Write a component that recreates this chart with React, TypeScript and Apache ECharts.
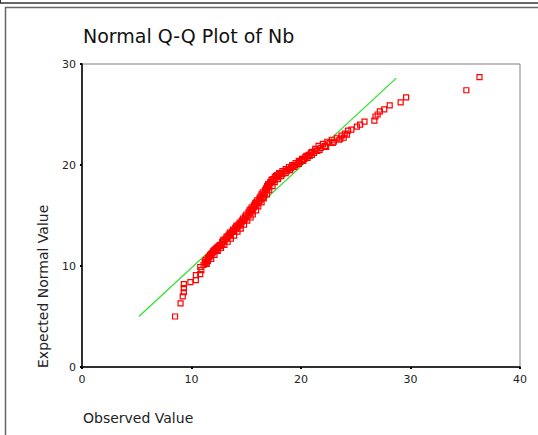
import React, { useEffect, useRef } from "react";
import * as echarts from "echarts";

const titleText = "Normal Q-Q Plot of Nb";
const xAxisName = "Observed Value";
const yAxisName = "Expected Normal Value";
const xTicks = [0, 10, 20, 30, 40];
const yTicks = [0, 10, 20, 30];

// [observed, expected normal]
const qqPoints: [number, number][] = [
  [8.5, 5.0], [9.0, 6.3], [9.2, 7.0], [9.3, 7.4], [9.3, 7.8], [9.3, 8.2], [9.9, 8.4],
  [10.4, 8.6], [10.4, 9.1], [10.8, 9.2], [10.9, 9.6], [10.8, 9.9], [11.1, 10.1],
  [11.3, 10.3], [11.5, 10.5], [11.5, 10.8], [11.7, 11.0], [11.8, 11.2], [12.0, 11.4],
  [12.1, 11.6], [12.2, 11.7], [12.4, 11.9], [12.6, 12.0], [12.8, 12.2], [12.9, 12.4],
  [13.0, 12.5], [13.2, 12.7], [13.3, 12.9], [13.5, 13.0], [13.6, 13.2], [13.8, 13.4],
  [13.9, 13.5], [14.1, 13.7], [14.2, 13.9], [14.4, 14.0], [14.5, 14.2], [14.6, 14.4],
  [14.8, 14.5], [14.9, 14.7], [15.0, 14.9], [15.2, 15.0], [15.3, 15.2], [15.5, 15.4],
  [15.6, 15.6], [15.7, 15.8], [15.9, 16.0], [16.0, 16.2], [16.2, 16.4], [16.3, 16.6],
  [16.5, 16.8], [16.6, 17.0], [16.7, 17.2], [16.9, 17.5], [17.0, 17.8], [17.1, 18.0],
  [17.2, 18.3], [17.4, 18.6], [17.6, 18.8], [17.8, 19.0], [18.0, 19.2], [18.3, 19.4],
  [18.6, 19.6], [18.9, 19.8], [19.2, 20.0], [19.5, 20.2], [19.8, 20.4], [20.1, 20.6],
  [20.4, 20.8], [20.7, 21.0], [21.0, 21.3], [21.3, 21.6], [21.6, 21.9], [22.0, 22.1],
  [22.4, 22.3], [22.8, 22.5], [23.3, 22.7], [23.7, 22.9], [24.0, 23.1], [24.3, 23.4],
  [24.6, 23.5], [25.1, 23.8], [25.4, 24.0], [25.8, 24.3], [26.7, 24.4], [26.8, 24.8],
  [27.0, 25.0], [27.2, 25.3], [27.6, 25.5], [28.1, 25.9], [29.1, 26.2], [29.6, 26.7],
  [35.1, 27.4], [36.3, 28.7],
  // second pass through the dense band
  [11.4, 10.2], [11.8, 10.7], [12.1, 11.1], [12.4, 11.5], [12.7, 11.8], [13.0, 12.1],
  [13.3, 12.4], [13.6, 12.7], [13.9, 13.0], [14.2, 13.4], [14.5, 13.7], [14.8, 14.1],
  [15.1, 14.5], [15.4, 14.8], [15.6, 15.1], [15.9, 15.5], [16.1, 15.9], [16.4, 16.3],
  [16.6, 16.7], [16.9, 17.1], [17.1, 17.5], [17.4, 17.9], [17.6, 18.3], [17.9, 18.6],
  [18.2, 18.9], [18.6, 19.2], [19.0, 19.5], [19.4, 19.8], [19.8, 20.1], [20.2, 20.4],
  [20.6, 20.7], [21.0, 21.0], [21.5, 21.4], [22.2, 21.9], [23.0, 22.3], [23.9, 22.7],
  // third pass through the dense band
  [11.2, 10.4], [11.6, 10.9], [11.9, 11.3], [12.3, 11.8], [12.6, 12.1], [12.9, 12.6],
  [13.2, 12.9], [13.5, 13.3], [13.8, 13.6], [14.1, 14.0], [14.4, 14.3], [14.7, 14.7],
  [15.0, 15.1], [15.3, 15.5], [15.5, 15.8], [15.8, 16.2], [16.0, 16.5], [16.3, 16.9],
  [16.5, 17.3], [16.8, 17.7], [17.0, 18.1], [17.3, 18.5], [17.7, 18.9], [18.1, 19.1],
  [18.5, 19.4], [18.8, 19.6], [19.3, 19.9], [19.7, 20.2], [20.1, 20.5], [20.5, 20.9],
  [20.9, 21.2], [21.3, 21.4], [21.8, 21.7], [22.6, 22.2], [23.5, 22.5], [24.2, 23.0],
  // fourth pass through the dense band
  [11.3, 10.6], [11.7, 11.1], [12.0, 11.5], [12.3, 11.6], [12.5, 12.0], [12.8, 12.4],
  [13.1, 12.7], [13.4, 13.1], [13.7, 13.4], [14.0, 13.8], [14.3, 14.1], [14.6, 14.5],
  [14.9, 14.9], [15.2, 15.3], [15.4, 15.6], [15.7, 16.0], [15.9, 16.3], [16.2, 16.7],
  [16.4, 17.1], [16.7, 17.5], [16.9, 17.9], [17.2, 18.2], [17.5, 18.5], [17.9, 18.8],
  [18.3, 19.1], [18.7, 19.4], [19.1, 19.7], [19.5, 20.0], [19.9, 20.3], [20.3, 20.6],
  [20.8, 20.9], [21.2, 21.2], [21.7, 21.5], [22.3, 21.8], [22.9, 22.2], [23.6, 22.6],
];

const refLine: [number, number][] = [
  [5.2, 5.0],
  [28.7, 28.6],
];

export default function App() {
  const ref = useRef<HTMLDivElement>(null);
  useEffect(() => {
    if (!ref.current) return;
    const chart = echarts.init(ref.current, undefined, { renderer: "svg" });
    const font = "'DejaVu Sans', sans-serif";
    chart.setOption({
      animation: false,
      backgroundColor: "#ffffff",
      grid: {
        left: 82,
        top: 64,
        right: 18,
        bottom: 68,
        show: true,
        borderColor: "#808080",
        borderWidth: 1,
      },
      xAxis: {
        type: "value",
        min: 0,
        max: 40,
        interval: 10,
        splitLine: { show: false },
        axisLine: { show: true, onZero: false, lineStyle: { color: "#000", width: 1.5 } },
        axisTick: { show: true, length: 2, lineStyle: { color: "#000", width: 2 } },
        axisLabel: { color: "#222", fontSize: 11, fontFamily: font, margin: 7, customValues: xTicks },
      },
      yAxis: {
        type: "value",
        min: 0,
        max: 30,
        interval: 10,
        splitLine: { show: false },
        axisLine: { show: true, onZero: false, lineStyle: { color: "#000", width: 1.5 } },
        axisTick: { show: true, length: 2, lineStyle: { color: "#000", width: 2 } },
        axisLabel: { color: "#222", fontSize: 11, fontFamily: font, margin: 6, customValues: yTicks },
      },
      graphic: [
        { type: "line", shape: { x1: 0, y1: 3, x2: 538, y2: 3 }, style: { stroke: "#333", lineWidth: 1.5 } },
        { type: "line", shape: { x1: 0.5, y1: 0, x2: 0.5, y2: 3 }, style: { stroke: "#333", lineWidth: 1 } },
        { type: "rect", shape: { x: 5.5, y: 7.5, width: 600, height: 500 }, style: { fill: "none", stroke: "#666", lineWidth: 1.5 } },
        {
          type: "text",
          x: 83,
          y: 36,
          style: { text: titleText, font: `19px ${font}`, fill: "#111", textAlign: "left", textVerticalAlign: "middle" },
        },
        {
          type: "text",
          x: 83,
          y: 418,
          style: { text: xAxisName, font: `14px ${font}`, fill: "#222", textAlign: "left", textVerticalAlign: "middle" },
        },
        {
          type: "text",
          x: 43,
          y: 368,
          rotation: Math.PI / 2,
          style: { text: yAxisName, font: `14px ${font}`, fill: "#222", textAlign: "left", textVerticalAlign: "middle" },
        },
      ],
      series: [
        {
          type: "line",
          data: refLine,
          showSymbol: false,
          lineStyle: { color: "#33e033", width: 1.3 },
          z: 2,
        },
        {
          type: "scatter",
          data: qqPoints,
          symbol: "rect",
          symbolSize: 5,
          itemStyle: { color: "transparent", borderColor: "#ff0000", borderWidth: 1.2, opacity: 1 },
          z: 3,
        },
      ],
    });
    return () => chart.dispose();
  }, []);
  return <div ref={ref} style={{ width: 538, height: 435, position: "absolute", left: 0, top: 0 }} />;
}
